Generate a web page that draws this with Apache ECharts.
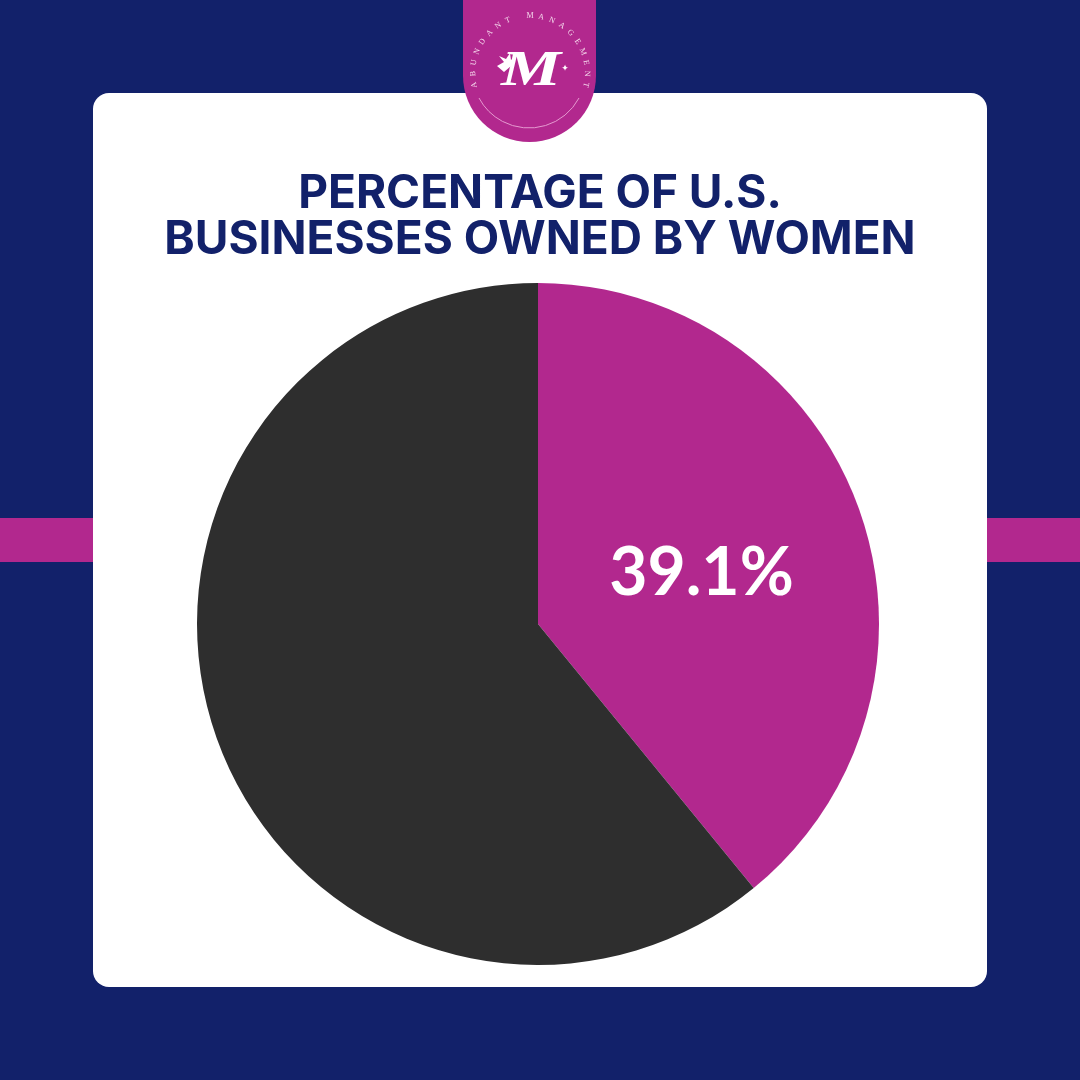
<!DOCTYPE html>
<html style="height: 100%">
<head>
<meta charset="utf-8">
<script src="https://cdn.jsdelivr.net/npm/echarts@6/dist/echarts.min.js"></script>
</head>
<body style="height: 100%; margin: 0">
<div id="main" style="width: 1080px; height: 1080px;"></div>
<script type="text/javascript">
var categories = ['Owned by women', 'Other businesses'];
var shareValues = [39.1, 60.9];
var sliceColors = ['#b2288e', '#2e2e2e'];
var titleLines = ['PERCENTAGE OF U.S.', 'BUSINESSES OWNED BY WOMEN'];
var logoText = 'ABUNDANT MANAGEMENT';

var navy = '#12216a';
var pink = '#b2288e';

var myChart = echarts.init(document.getElementById('main'));

// the badge lettering runs round a circle, one text element per letter
var logoLetters = [];
var arcX = 530, arcY = 73, arcR = 57, arcFrom = -102, arcTo = 102;
for (var i = 0; i < logoText.length; i++) {
    var deg = arcFrom + (arcTo - arcFrom) * i / (logoText.length - 1);
    var rad = deg * Math.PI / 180;
    logoLetters.push({
        type: 'text',
        x: arcX + arcR * Math.sin(rad),
        y: arcY - arcR * Math.cos(rad),
        rotation: -rad,
        style: {
            text: logoText.charAt(i),
            fill: '#f6dcee',
            font: '8px "Liberation Serif"',
            align: 'center',
            verticalAlign: 'middle'
        }
    });
}

var option = {
    backgroundColor: navy,
    animation: false,
    title: {
        text: titleLines.join('\n'),
        left: 'center',
        top: 166,
        textStyle: {
            color: navy,
            fontFamily: 'Inter',
            fontWeight: 700,
            fontSize: 46,
            lineHeight: 46
        }
    },
    // drawn in array order: stripe, card, then the badge over the card
    graphic: [
        { type: 'rect', shape: { x: 0, y: 518, width: 1080, height: 44 }, style: { fill: pink } },
        { type: 'rect', shape: { x: 93, y: 93, width: 894, height: 894, r: 16 }, style: { fill: '#ffffff' } },
        {
            type: 'rect',
            shape: { x: 463, y: -20, width: 133, height: 162, r: [0, 0, 66.5, 66.5] },
            style: { fill: pink }
        },
        {
            type: 'arc',
            shape: { cx: 529, cy: 71.3, r: 56.7, startAngle: 0.49, endAngle: Math.PI - 0.49 },
            style: { stroke: '#e59ad0', lineWidth: 1, fill: null }
        },
        {
            type: 'text',
            x: 531,
            y: 72,
            scaleX: 1.35,
            style: {
                text: 'M',
                fill: '#ffffff',
                font: 'italic bold 50px "Liberation Serif"',
                align: 'center',
                verticalAlign: 'middle'
            }
        },
        {
            type: 'polygon',
            shape: { points: [[497, 66], [504, 62], [499, 56], [506, 59], [510, 53], [511, 60], [516, 57], [511, 66], [504, 72]] },
            style: { fill: '#ffffff' }
        },
        {
            type: 'text',
            x: 565,
            y: 69,
            style: { text: '✦', fill: '#ffffff', font: '9px "DejaVu Sans"', align: 'center', verticalAlign: 'middle' }
        }
    ].concat(logoLetters),
    series: [
        {
            type: 'pie',
            center: [538, 624],
            radius: [0, 341],
            startAngle: 90,
            clockwise: true,
            silent: true,
            itemStyle: { borderWidth: 0 },
            labelLine: { show: false },
            data: categories.map(function (name, idx) {
                return {
                    name: name,
                    value: shareValues[idx],
                    itemStyle: { color: sliceColors[idx] },
                    label: idx === 0 ? {
                        show: true,
                        position: 'inside',
                        formatter: shareValues[idx] + '%',
                        offset: [0, 8],
                        color: '#ffffff',
                        fontFamily: 'Lato',
                        fontWeight: 700,
                        fontSize: 66
                    } : { show: false }
                };
            })
        }
    ]
};
myChart.setOption(option);
</script>
</body>
</html>
